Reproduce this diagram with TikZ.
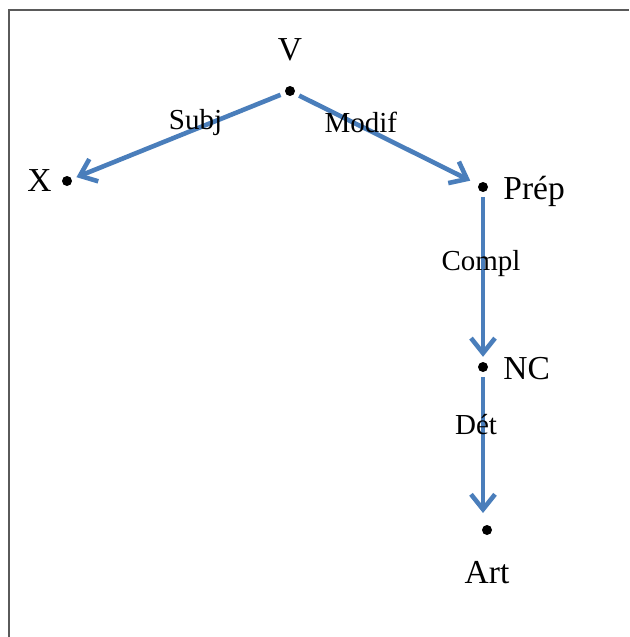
\documentclass[tikz,border=0pt]{standalone}
\usepackage{fontspec}
\setmainfont{Liberation Serif}
\usetikzlibrary{arrows.meta}
\definecolor{depblue}{HTML}{4A7EBB}
\definecolor{framegray}{HTML}{5A5A5A}
\tikzset{
  word/.style={
    inner sep = 0pt,
    minimum size = 10pt,
    shape = circle,
    fill
  },
  dep/.style={
    draw = depblue,
    line width = 4.6pt,
    -{Straight Barb[length=15pt,width=24pt]},
    shorten <= 5pt,
    shorten >= 5pt
  },
  rel/.style={
    inner sep = 0pt,
    font = \fontsize{29}{35}\selectfont
  },
  every label/.style={
    inner sep = 0pt,
    font = \fontsize{33.5}{40}\selectfont
  }
}

\begin{document}
\begin{tikzpicture}[x=1pt,y=-1pt]
            \useasboundingbox (0,0) rectangle (629,637);
            \draw[framegray, line width=1.2pt] (9,637) -- (9,10) -- (629,10);
            \node[word,label={[label distance=25pt]above:V}] (v) at (290,91) {};
            \node[word,label={[label distance=10pt]left:X}] (x) at (67,181) {};
            \node[word,label={[label distance=15pt,yshift=-4pt]right:Prép}] (prep) at (483,187) {};
            \node[word,label={[label distance=15pt,yshift=-2pt]right:NC}] (nc) at (483,367) {};
            \node[word,label={[label distance=26pt]below:Art}] (art) at (487,530) {};
            \draw[dep] (v) -- node[rel,pos=0.42,yshift=7pt] {Subj} (x);
            \draw[dep,shorten >=9pt] (v) -- node[rel,pos=0.36,yshift=4pt] {Modif} (prep);
            \draw[dep] (prep) -- node[rel,pos=0.42,xshift=-2pt] {Compl} (nc);
            \draw[dep,shorten >=17pt] (nc) -- node[rel,pos=0.33,xshift=-7pt] {Dét} (nc |- art);
        \end{tikzpicture}
\end{document}
